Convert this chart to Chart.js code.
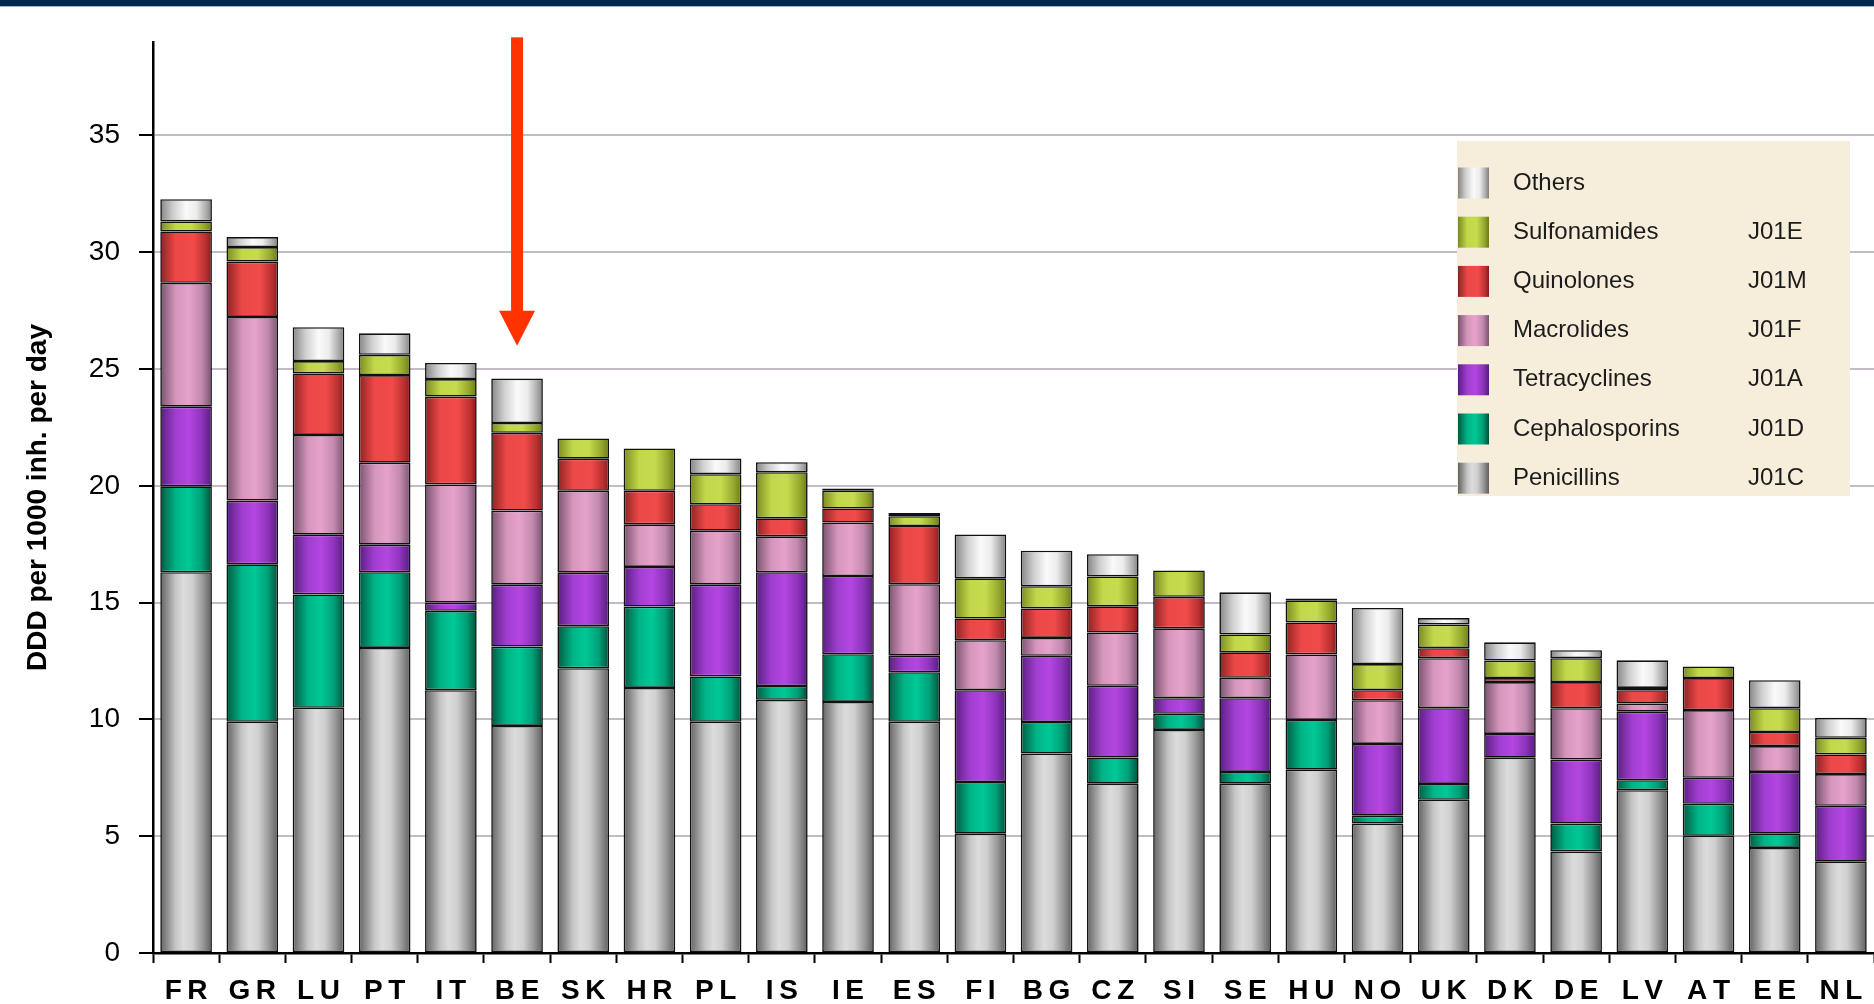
<!DOCTYPE html>
<html>
<head>
<meta charset="utf-8">
<title>Outpatient antibiotic use by country</title>
<script src="https://cdn.jsdelivr.net/npm/chart.js@4.4.1/dist/chart.umd.min.js"></script>
<style>
    html, body { margin: 0; padding: 0; background: #fff; overflow: hidden; }
    .top-band {
        position: absolute; left: 0; top: 0; width: 1874px; height: 6px;
        background: #00284f; border-bottom: 1px solid #9fb2c6; z-index: 2;
    }
    .chart-wrap { position: absolute; left: 0; top: 0; width: 1874px; height: 1004px; }
</style>
</head>
<body>
<div class="top-band"></div>
<div class="chart-wrap"><canvas id="atcChart"></canvas></div>
<script>
// Countries, sorted by total use
const countries = ['FR', 'GR', 'LU', 'PT', 'IT', 'BE', 'SK', 'HR', 'PL', 'IS', 'IE', 'ES', 'FI',
                   'BG', 'CZ', 'SI', 'SE', 'HU', 'NO', 'UK', 'DK', 'DE', 'LV', 'AT', 'EE', 'NL'];

// DDD per 1000 inhabitants per day, by ATC group
const penicillins    = [16.30, 9.90, 10.50, 13.06, 11.25, 9.72, 12.19, 11.35, 9.90, 10.84, 10.75, 9.90, 5.11,
                        8.54, 7.25, 9.55, 7.25, 7.85, 5.54, 6.56, 8.36, 4.35, 6.97, 5.02, 4.50, 3.91];
const cephalosporins = [3.68, 6.74, 4.85, 3.24, 3.40, 3.40, 1.80, 3.48, 1.94, 0.59, 2.04, 2.12, 2.21,
                        1.35, 1.12, 0.69, 0.50, 2.13, 0.34, 0.68, 0, 1.19, 0.43, 1.37, 0.61, 0];
const tetracyclines  = [3.41, 2.73, 2.56, 1.18, 0.35, 2.65, 2.29, 1.70, 3.93, 4.87, 3.35, 0.71, 3.93,
                        2.83, 3.07, 0.67, 3.16, 0, 3.07, 3.24, 1.02, 2.74, 2.93, 1.11, 2.64, 2.39];
const macrolides     = [5.30, 7.86, 4.27, 3.51, 5.06, 3.17, 3.51, 1.82, 2.31, 1.54, 2.29, 3.06, 2.14,
                        0.77, 2.28, 2.99, 0.87, 2.80, 1.87, 2.14, 2.22, 2.20, 0.35, 2.90, 1.11, 1.36];
const quinolones     = [2.20, 2.37, 2.63, 3.75, 3.76, 3.33, 1.37, 1.44, 1.13, 0.77, 0.60, 2.49, 0.93,
                        1.26, 1.12, 1.35, 1.09, 1.37, 0.43, 0.43, 0.17, 1.12, 0.57, 1.37, 0.60, 0.84];
const sulfonamides   = [0.43, 0.62, 0.53, 0.87, 0.75, 0.42, 0.87, 1.81, 1.29, 1.97, 0.76, 0.42, 1.72,
                        0.95, 1.28, 1.13, 0.77, 0.95, 1.12, 1.01, 0.75, 1.02, 0.10, 0.50, 1.02, 0.71];
const others         = [0.95, 0.43, 1.45, 0.92, 0.69, 1.90, 0, 0, 0.67, 0.43, 0.09, 0.14, 1.88,
                        1.52, 0.95, 0, 1.80, 0.08, 2.40, 0.28, 0.78, 0.34, 1.18, 0, 1.20, 0.86];

// ATC codes shown next to the legend names
const atcCodes = ['J01C', 'J01D', 'J01A', 'J01F', 'J01M', 'J01E', ''];

// Y axis range and the highlighted country
const yMax = 39;
const highlightCountry = 'BE';
const arrowTop = 39.2;
const arrowTip = 26;

const BAR_PCT = 0.78;

// Shaded "cylinder" colour stops, left edge to right edge
const shades = {
    penicillins:    [[0, '#636363'], [0.12, '#8a8a8a'], [0.3, '#c6c6c6'], [0.45, '#dcdcdc'], [0.62, '#d0d0d0'], [0.82, '#9a9a9a'], [1, '#5e5e5e']],
    cephalosporins: [[0, '#005a42'], [0.3, '#00b486'], [0.55, '#00c896'], [0.8, '#00a078'], [1, '#004e3a']],
    tetracyclines:  [[0, '#5a1e80'], [0.3, '#a03ed0'], [0.55, '#b446e2'], [0.8, '#8e34bc'], [1, '#571c7c']],
    macrolides:     [[0, '#7a5270'], [0.3, '#d696bc'], [0.55, '#e6a2cb'], [0.8, '#c28aae'], [1, '#7a5270']],
    quinolones:     [[0, '#8e2222'], [0.3, '#ec4848'], [0.65, '#f04a4a'], [0.88, '#b83030'], [1, '#861c1c']],
    sulfonamides:   [[0, '#7b8a20'], [0.3, '#c2d84a'], [0.6, '#c6dc4e'], [0.85, '#96a82e'], [1, '#6c7a18']],
    others:         [[0, '#858585'], [0.25, '#cfcfcf'], [0.5, '#fafafa'], [0.7, '#ececec'], [0.9, '#a8a8a8'], [1, '#7e7e7e']]
};

// Helper: horizontal gradient between two x positions
function makeGradient(ctx, x0, x1, stops) {
    const g = ctx.createLinearGradient(x0, 0, x1, 0);
    stops.forEach(s => g.addColorStop(s[0], s[1]));
    return g;
}

// Helper: scriptable fill, one gradient per bar
function barFill(stops) {
    return function(context) {
        const chart = context.chart;
        const xScale = chart.scales.x;
        if (!chart.chartArea || !xScale || context.dataIndex === undefined) {
            return stops[Math.floor(stops.length / 2)][1];
        }
        const cx = xScale.getPixelForValue(context.dataIndex);
        const half = (xScale.width / countries.length) * BAR_PCT / 2;
        return makeGradient(chart.ctx, cx - half, cx + half, stops);
    };
}

function makeDataset(label, data, stops) {
    return {
        label: label,
        data: data,
        backgroundColor: barFill(stops),
        borderColor: '#111',
        borderWidth: 1.6,
        borderSkipped: false,
        barPercentage: BAR_PCT,
        categoryPercentage: 1
    };
}

const datasets = [
    makeDataset('Penicillins', penicillins, shades.penicillins),
    makeDataset('Cephalosporins', cephalosporins, shades.cephalosporins),
    makeDataset('Tetracyclines', tetracyclines, shades.tetracyclines),
    makeDataset('Macrolides', macrolides, shades.macrolides),
    makeDataset('Quinolones', quinolones, shades.quinolones),
    makeDataset('Sulfonamides', sulfonamides, shades.sulfonamides),
    makeDataset('Others', others, shades.others)
];
const stopList = [shades.penicillins, shades.cephalosporins, shades.tetracyclines, shades.macrolides,
                  shades.quinolones, shades.sulfonamides, shades.others];

// Plugin: boxed legend with ATC codes, top entry = top of stack
const atcLegend = {
    id: 'atcLegend',
    afterDraw(chart) {
        const ctx = chart.ctx;
        const area = chart.chartArea;
        const left = area.right - 417;
        const top = area.top + 99;
        const rowH = 49.2;

        ctx.save();
        ctx.fillStyle = '#f6eddb';
        ctx.fillRect(left, top, 393, 355);

        ctx.font = '24px "Liberation Sans", Arial, sans-serif';
        ctx.textBaseline = 'middle';
        for (let i = 0; i < datasets.length; i++) {
            const k = datasets.length - 1 - i;
            const cy = top + 42 + i * rowH;
            ctx.fillStyle = makeGradient(ctx, left + 1, left + 32, stopList[k]);
            ctx.fillRect(left + 1, cy - 15.5, 31, 31);
            ctx.fillStyle = '#1c1c1c';
            ctx.fillText(datasets[k].label, left + 56, cy);
            ctx.fillText(atcCodes[k], left + 291, cy);
        }
        ctx.restore();
    }
};

// Plugin: red arrow pointing at the highlighted country
const highlightArrow = {
    id: 'highlightArrow',
    afterDraw(chart) {
        const ctx = chart.ctx;
        const x = chart.scales.x.getPixelForValue(countries.indexOf(highlightCountry));
        const yTop = chart.scales.y.getPixelForValue(arrowTop);
        const yTip = chart.scales.y.getPixelForValue(arrowTip);
        const headLen = 35;

        ctx.save();
        ctx.fillStyle = '#ff3300';
        ctx.fillRect(x - 6, yTop, 12, yTip - headLen - yTop + 1);
        ctx.beginPath();
        ctx.moveTo(x - 18, yTip - headLen);
        ctx.lineTo(x + 18, yTip - headLen);
        ctx.lineTo(x, yTip);
        ctx.closePath();
        ctx.fill();
        ctx.restore();
    }
};

new Chart(document.getElementById('atcChart'), {
    type: 'bar',
    data: { labels: countries, datasets: datasets },
    plugins: [atcLegend, highlightArrow],
    options: {
        responsive: true,
        maintainAspectRatio: false,
        animation: false,
        layout: { padding: { top: 42, right: 0, left: 0, bottom: 0 } },
        plugins: {
            legend: { display: false },
            tooltip: { enabled: false }
        },
        scales: {
            x: {
                stacked: true,
                offset: true,
                afterFit: function(scale) { scale.height = 51; },
                grid: {
                    display: true,
                    offset: true,
                    drawOnChartArea: false,
                    drawTicks: true,
                    tickLength: 10,
                    tickColor: '#000',
                    tickWidth: 2
                },
                border: { display: true, color: '#000', width: 2.5 },
                ticks: {
                    color: '#000',
                    padding: 11,
                    maxRotation: 0,
                    autoSkip: false,
                    // spaced-out country codes
                    callback: function(value) {
                        return countries[value].split('').join('\u2009');
                    },
                    font: { family: '"Liberation Sans", Arial, sans-serif', size: 28, weight: 'bold' }
                }
            },
            y: {
                stacked: true,
                min: 0,
                max: yMax,
                afterFit: function(scale) { scale.width = 153; },
                afterBuildTicks: function(axis) {
                    axis.ticks = axis.ticks.filter(t => t.value % 5 === 0);
                },
                grid: {
                    color: '#c4bac8',
                    lineWidth: 2,
                    tickLength: 14,
                    tickColor: '#000',
                    tickWidth: 2
                },
                border: { display: true, color: '#000', width: 2.5 },
                ticks: {
                    stepSize: 5,
                    color: '#000',
                    padding: 19,
                    font: { family: '"Liberation Sans", Arial, sans-serif', size: 28 }
                },
                title: {
                    display: true,
                    text: 'DDD per 1000 inh. per day',
                    color: '#000',
                    padding: { top: 21, bottom: 0 },
                    font: { family: '"Liberation Sans", Arial, sans-serif', size: 28, weight: 'bold' }
                }
            }
        }
    }
});
</script>
</body>
</html>
